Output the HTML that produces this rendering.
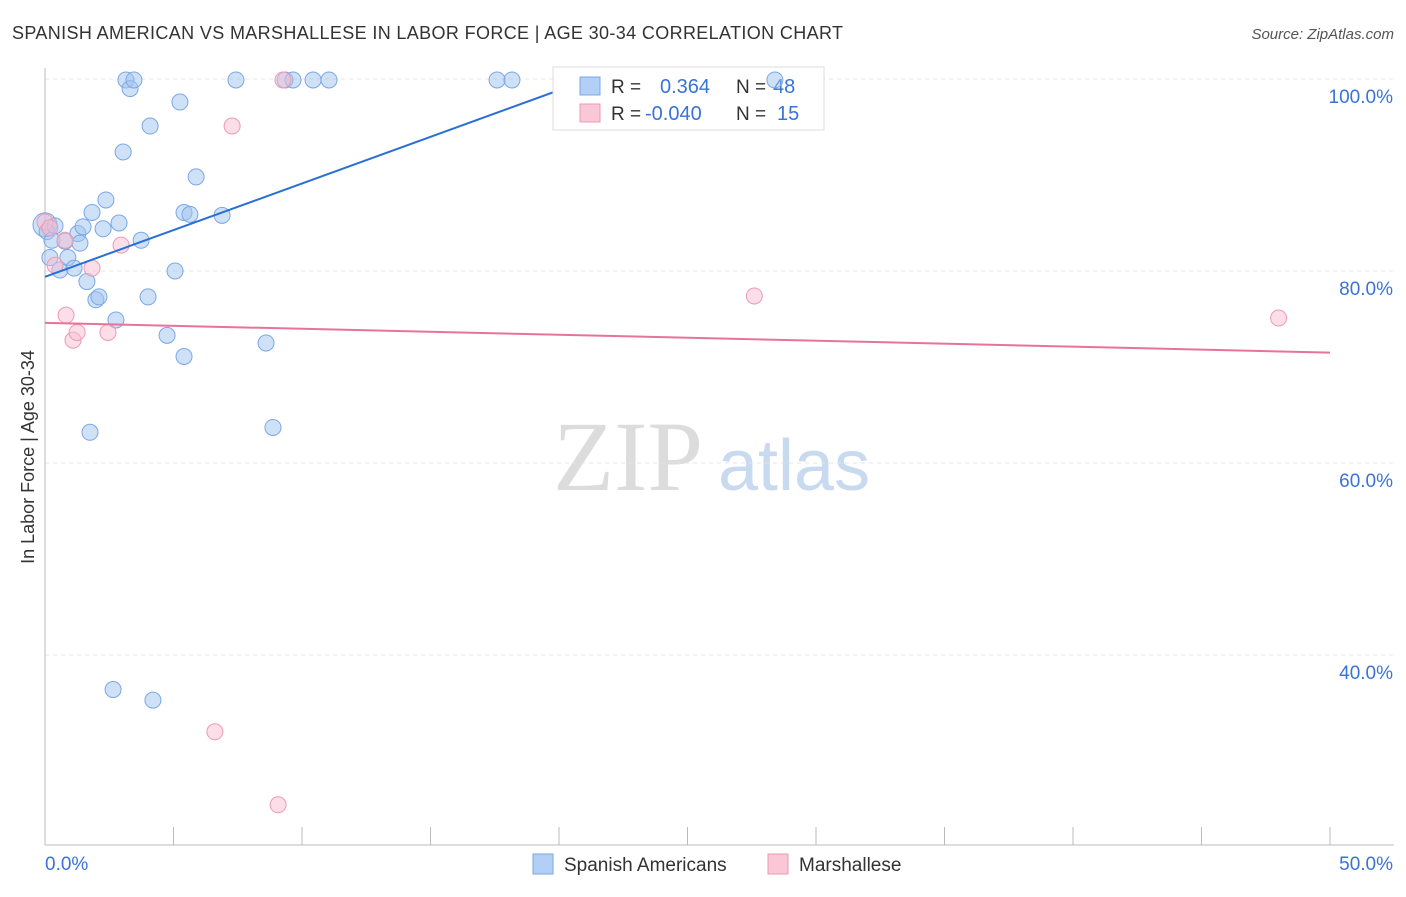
<!DOCTYPE html>
<html><head><meta charset="utf-8"><style>
body{margin:0;background:#fff;font-family:"Liberation Sans",sans-serif;}
</style></head><body>
<svg width="1406" height="892" font-family="Liberation Sans, sans-serif">
<text x="12" y="39" font-size="18" fill="#333" textLength="831">SPANISH AMERICAN VS MARSHALLESE IN LABOR FORCE | AGE 30-34 CORRELATION CHART</text>
<text x="1394" y="39" font-size="15" fill="#555" font-style="italic" text-anchor="end">Source: ZipAtlas.com</text>
<text x="553" y="490" font-size="100" fill="#dcdcdc" font-family="Liberation Serif, serif">ZIP</text>
<text x="718" y="490" font-size="72" fill="#c8daf0">atlas</text>
<g id="grid"></g><g id="axes"></g><g id="marks"></g>
<text transform="translate(34,457) rotate(-90)" font-size="18" fill="#333" text-anchor="middle">In Labor Force | Age 30-34</text>
<g>
<rect x="553" y="67" width="271" height="63" fill="#fff" stroke="#ddd"/>
<rect x="580" y="77" width="20" height="18" fill="#b3cff5" stroke="#7aa7e6"/>
<rect x="580" y="104" width="20" height="18" fill="#f9c7d6" stroke="#ee9ab3"/>
<text x="611" y="93" font-size="19" fill="#333">R =</text><text x="660" y="93" font-size="20" fill="#3a73d6">0.364</text>
<text x="736" y="93" font-size="19" fill="#333">N =</text><text x="773" y="93" font-size="20" fill="#3a73d6">48</text>
<text x="611" y="120" font-size="19" fill="#333">R =</text><text x="645" y="120" font-size="20" fill="#3a73d6">-0.040</text>
<text x="736" y="120" font-size="19" fill="#333">N =</text><text x="777" y="120" font-size="20" fill="#3a73d6">15</text>
</g>
<g id="over"></g>
<g>
<rect x="533" y="854" width="20" height="20" fill="#b3cff5" stroke="#7aa7e6"/>
<text x="564" y="871" font-size="19" fill="#333">Spanish Americans</text>
<rect x="768" y="854" width="20" height="20" fill="#f9c7d6" stroke="#ee9ab3"/>
<text x="799" y="871" font-size="19" fill="#333">Marshallese</text>
</g>
</svg>
<script>
const blueX=[0,0.08,0.27,0.39,0.19,0.58,0.78,0.89,1.13,1.28,1.36,1.48,1.63,1.75,1.83,1.98,2.1,2.26,2.37,2.65,2.76,2.88,3.04,3.15,3.31,3.46,3.74,4.01,4.09,4.2,4.75,5.06,5.25,5.41,5.41,5.64,5.88,6.89,7.43,8.6,8.87,9.34,9.65,10.43,11.05,17.59,18.17,28.4];
const blueY=[84.8,84.1,83.2,84.7,81.4,80.1,83.1,81.4,80.3,83.9,82.9,84.6,78.9,63.2,86.1,77.0,77.3,84.4,87.4,36.4,74.9,85.0,92.4,99.9,99.0,99.9,83.2,77.3,95.1,35.3,73.3,80.0,97.6,71.1,86.1,85.9,89.8,85.8,99.9,72.5,63.7,99.9,99.9,99.9,99.9,99.9,99.9,99.9];
const pinkX=[0,0.19,0.39,0.78,0.82,1.09,1.25,1.83,2.45,2.96,6.61,7.28,9.07,9.26,27.6,48.0];
const pinkY=[85.1,84.5,80.6,83.2,75.4,72.8,73.6,80.3,73.6,82.7,32.0,95.1,24.4,99.9,77.4,75.1];
const blueTrend=[[0,79.4],[21.2,100]];
const pinkTrend=[[0,74.6],[50,71.5]];
const yTicks=[100,80,60,40];
const yTickLabels=["100.0%","80.0%","60.0%","40.0%"];
const xTicks=[0,5,10,15,20,25,30,35,40,45,50];
const NS="http://www.w3.org/2000/svg";
const X=v=>45+v*25.7, Y=v=>79+(100-v)*9.6;
function mk(p,t,a){const e=document.createElementNS(NS,t);for(const k in a)e.setAttribute(k,a[k]);p.appendChild(e);return e;}
const grid=document.getElementById('grid'),axes=document.getElementById('axes'),marks=document.getElementById('marks'),over=document.getElementById('over');
yTicks.forEach((t,i)=>{
 const l=mk(grid,'line',{x1:45,x2:1394,y1:Y(t),y2:Y(t),stroke:'#e4e4e4','stroke-dasharray':'4,4'});
 
 
 const tx=mk(axes,'text',{x:1393,y:Y(t)+24,'font-size':19,fill:'#3a73d6','text-anchor':'end'});
 tx.textContent=yTickLabels[i];
 
 
});
const xa=mk(axes,'line',{x1:45,x2:1394,y1:845,y2:845,stroke:'#bbb'});


const ya=mk(axes,'line',{x1:45,x2:45,y1:68,y2:845,stroke:'#bbb'});


xTicks.forEach(t=>{
 const l=mk(axes,'line',{x1:X(t),x2:X(t),y1:827,y2:845,stroke:'#bbb'});
 
 
});
[[0,'0.0%','start',45],[50,'50.0%','end',1393]].forEach(d=>{
 const tx=mk(axes,'text',{x:d[3],y:870,'font-size':19,fill:'#3a73d6','text-anchor':d[2]});
 tx.textContent=d[1];
 
 
});
blueX.forEach((v,i)=>{
 const g=(X(v)>550&&X(v)<830)?over:marks;
 const c=mk(g,'circle',{cx:X(v),cy:Y(blueY[i]),r:i==0?12:8,fill:'rgba(160,195,240,0.5)',stroke:'#7aa7e6','stroke-width':1});
 
 
});
pinkX.forEach((v,i)=>{
 const c=mk(marks,'circle',{cx:X(v),cy:Y(pinkY[i]),r:8,fill:'rgba(248,190,210,0.5)',stroke:'#ee9ab3','stroke-width':1});
 
 
});
const bl=mk(marks,'line',{x1:X(blueTrend[0][0]),y1:Y(blueTrend[0][1]),x2:X(blueTrend[1][0]),y2:Y(blueTrend[1][1]),stroke:'#2a6fd6','stroke-width':2});


const pl=mk(marks,'line',{x1:X(pinkTrend[0][0]),y1:Y(pinkTrend[0][1]),x2:X(pinkTrend[1][0]),y2:Y(pinkTrend[1][1]),stroke:'#e8739a','stroke-width':2});


</script>
</body></html>
